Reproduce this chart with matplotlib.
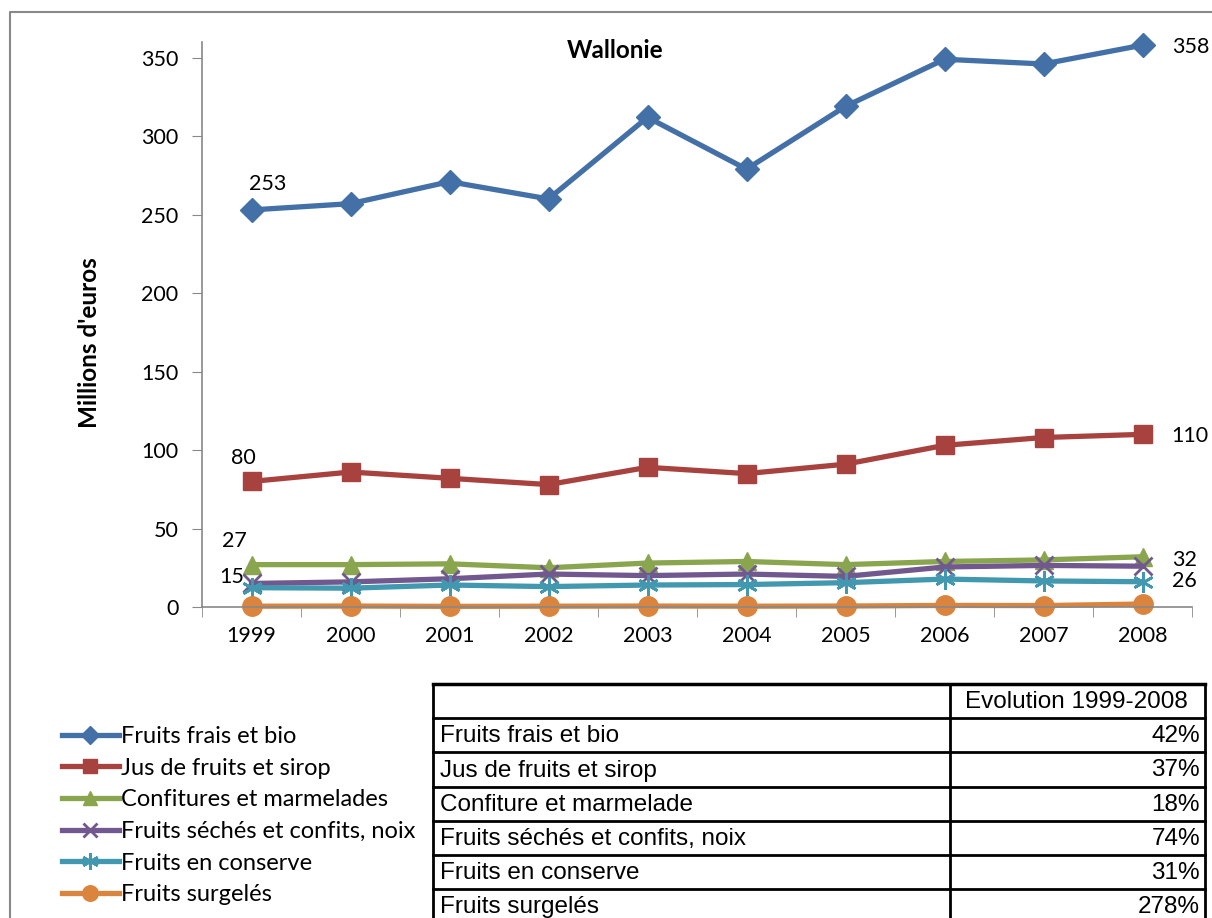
import matplotlib
matplotlib.use("Agg")
from matplotlib import pyplot as plt
from matplotlib.lines import Line2D

plt.rcParams['font.family'] = ['Lato', 'DejaVu Sans']

years = ['1999', '2000', '2001', '2002', '2003', '2004', '2005', '2006', '2007', '2008']

frais = [253, 257, 271, 260, 312, 279, 319, 349, 346, 358]
jus = [80, 86, 82, 78, 89, 85, 91, 103, 108, 110]
confitures = [27, 27, 27.5, 25, 28, 29, 27, 29, 30, 32]
seches = [15, 16, 18, 21, 20, 21, 19.5, 25.5, 26.5, 26]
conserve = [12.3, 12, 14, 13, 14, 14.3, 15.5, 17.8, 16.6, 16.1]
surgeles = [0.5, 0.6, 0.4, 0.5, 0.6, 0.5, 0.6, 1.0, 0.9, 1.9]

legend_names = ['Fruits frais et bio', 'Jus de fruits et sirop', 'Confitures et marmelades',
                'Fruits séchés et confits, noix', 'Fruits en conserve', 'Fruits surgelés']
table_names = ['Fruits frais et bio', 'Jus de fruits et sirop', 'Confiture et marmelade',
               'Fruits séchés et confits, noix', 'Fruits en conserve', 'Fruits surgelés']
evolution = ['42%', '37%', '18%', '74%', '31%', '278%']

series = [frais, jus, confitures, seches, conserve, surgeles]
colors = ['#4470A8', '#A8423F', '#89A54E', '#71588F', '#4198AF', '#DB843D']
markers = ['D', 's', '^', 'x', '*', 'o']
msizes = [12, 13, 13, 13, 15, 14]


def mk(m):
    return (6, 2, 0) if m == '*' else m


W, H = 1212, 918
fig = plt.figure(figsize=(W / 100, H / 100), dpi=100)

# overlay in pixel coords for frame, legend and table
ov = fig.add_axes([0, 0, 1, 1], zorder=0)
ov.set_xlim(0, W)
ov.set_ylim(H, 0)
ov.axis('off')
ov.plot([10, 10, W + 5], [H + 5, 12, 12], color='#888888', lw=1.5)

ax = fig.add_axes([202 / W, 1 - 607 / H, (1192 - 202) / W, (607 - 42) / H], zorder=2)
ax.patch.set_alpha(0)
x = list(range(len(years)))
for vals, c, m, ms in zip(series, colors, markers, msizes):
    mew = 2 if m in ('x', '*') else 1
    ax.plot(x, vals, color=c, lw=3.8, marker=mk(m), markersize=ms, markeredgewidth=mew,
            markeredgecolor=c, markerfacecolor=c, clip_on=False)

ax.set_xlim(-0.5, 9.5)
ax.set_ylim(0, 360)
ax.set_yticks(range(0, 351, 50))
ax.set_xticks(x)
ax.set_xticklabels(years)
ax.set_xticks([i - 0.5 for i in range(11)], minor=True)
ax.tick_params(axis='x', which='major', length=0, pad=14, labelsize=15.5)
ax.tick_params(axis='x', which='minor', length=7, color='#888888', direction='out')
ax.tick_params(axis='y', length=7, color='#888888', labelsize=15.5, pad=10)
for s in ['top', 'right']:
    ax.spines[s].set_visible(False)
ax.spines['left'].set_color('#888888')
ax.spines['bottom'].set_color('#888888')
ax.spines['left'].set_linewidth(1.2)
ax.spines['bottom'].set_linewidth(1.2)
ax.set_ylabel("Millions d'euros", fontsize=17.5, fontweight='bold')
ax.yaxis.set_label_coords(-0.102, 0.468)
ax.text(0.417, 1.005, 'Wallonie', transform=ax.transAxes, ha='center', va='top',
        fontsize=17.5, fontweight='bold')

# data labels
fs = 15.5
ax.annotate(str(frais[0]), (0, frais[0]), xytext=(12, 19), textcoords='offset points', ha='center', va='center', fontsize=fs)
ax.annotate(str(frais[-1]), (9, frais[-1]), xytext=(21, -1), textcoords='offset points', ha='left', va='center', fontsize=fs)
ax.annotate(str(jus[0]), (0, jus[0]), xytext=(-6, 17), textcoords='offset points', ha='center', va='center', fontsize=fs)
ax.annotate(str(jus[-1]), (9, jus[-1]), xytext=(21, -1), textcoords='offset points', ha='left', va='center', fontsize=fs)
ax.annotate(str(confitures[0]), (0, confitures[0]), xytext=(-12, 17), textcoords='offset points', ha='center', va='center', fontsize=fs)
ax.annotate(str(confitures[-1]), (9, confitures[-1]), xytext=(21, -2), textcoords='offset points', ha='left', va='center', fontsize=fs)
ax.annotate(str(seches[0]), (0, seches[0]), xytext=(-14, 5), textcoords='offset points', ha='center', va='center', fontsize=fs)
ax.annotate(str(seches[-1]), (9, seches[-1]), xytext=(21, -11), textcoords='offset points', ha='left', va='center', fontsize=fs)

# legend
handles = [Line2D([], [], color=c, lw=3.8, marker=mk(m), markersize=ms * 0.8,
                  markeredgecolor=c, markerfacecolor=c, markeredgewidth=(2 if m in ('x', '*') else 1))
           for c, m, ms in zip(colors, markers, msizes)]
fig.legend(handles, legend_names, loc='upper left', bbox_to_anchor=(62 / W, 1 - 726 / H),
           frameon=False, fontsize=17, handlelength=2.4, handletextpad=0.08, labelspacing=0.45,
           borderpad=0, borderaxespad=0)

# table
tfam = ['Liberation Sans', 'DejaVu Sans']
tfs = 17.5
tx0, tx1, tx2 = 433, 950, 1205
ty0, rh = 684, 34.2
nrows = len(table_names) + 1
bottom = ty0 + nrows * rh
ov.plot([tx0, tx2], [ty0, ty0], color='black', lw=2.5)
for r in range(1, nrows):
    ov.plot([tx0, tx2], [ty0 + r * rh, ty0 + r * rh], color='black', lw=2)
for xx in (tx0, tx1, tx2):
    ov.plot([xx, xx], [ty0, bottom], color='black', lw=2)
ov.text(tx2 - 17, ty0 + rh / 2 + 1, 'Evolution 1999-2008', ha='right', va='center', fontsize=tfs,
        family=tfam)
for i, (name, ev) in enumerate(zip(table_names, evolution)):
    yc = ty0 + (i + 1.5) * rh + 1
    ov.text(tx0 + 7, yc, name, ha='left', va='center', fontsize=tfs, family=tfam)
    ov.text(tx2 - 5, yc, ev, ha='right', va='center', fontsize=tfs, family=tfam)

fig.savefig('out.png', dpi=100)
